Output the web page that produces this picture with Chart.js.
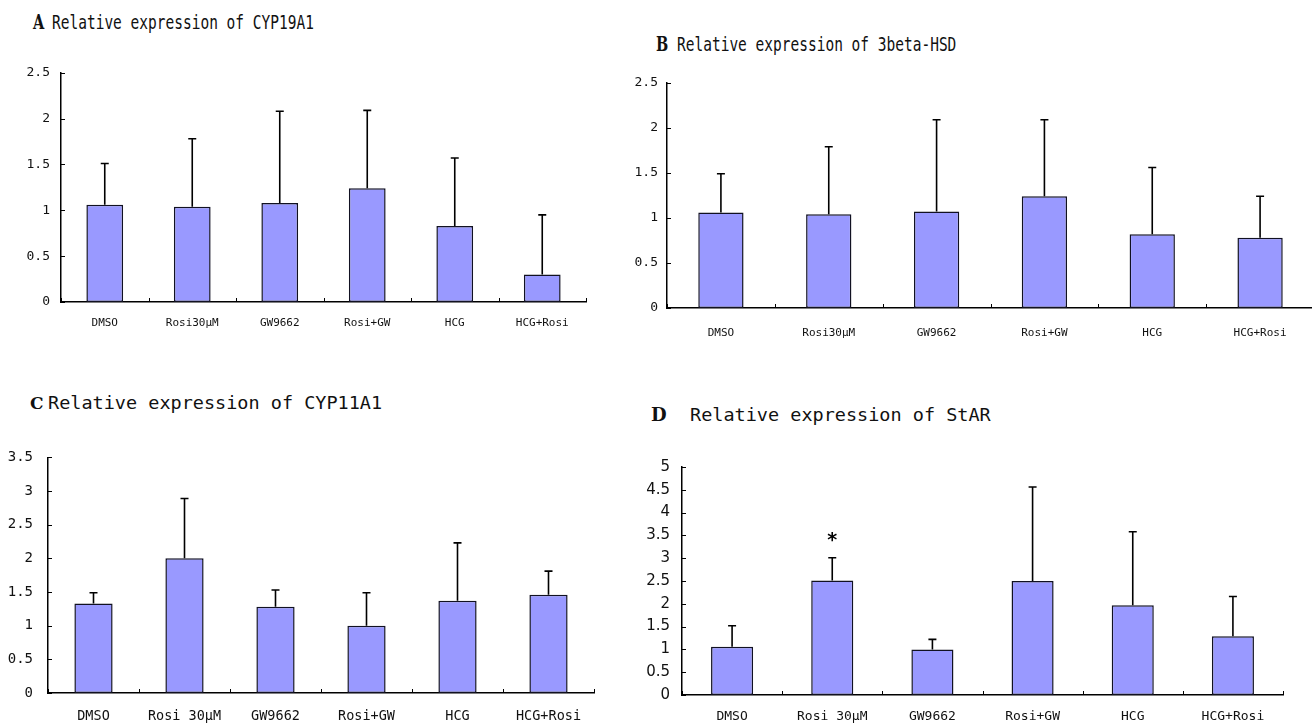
<!DOCTYPE html>
<html lang="en">
<head>
<meta charset="UTF-8">
<title>Relative expression</title>
<script src="https://cdn.jsdelivr.net/npm/chart.js"></script>
<style>
  body { margin:0; width:1312px; height:727px; background:#fff; overflow:hidden; position:relative; font-family:"DejaVu Sans Mono", monospace; color:#111; }
  canvas { position:absolute; }
  .ttl { position:absolute; white-space:pre; line-height:20px; transform-origin:left center; }
  .ab { font-size:14.5px; transform:scaleY(1.35); }
  .cd { font-size:18.5px; }
  .lt { font-family:"DejaVu Serif", serif; font-weight:bold; }
</style>
</head>
<body>
<!-- titoli dei pannelli -->
<div class="ttl ab lt" style="left:33px; top:12px;">A</div>
<div class="ttl ab" style="left:52px; top:12px;">Relative expression of CYP19A1</div>
<div class="ttl ab lt" style="left:656px; top:34px;">B</div>
<div class="ttl ab" style="left:677px; top:34px;">Relative expression of 3beta-HSD</div>
<div class="ttl lt" style="left:30px; top:393px; font-size:17px;">C</div>
<div class="ttl cd" style="left:48px; top:393px;">Relative expression of CYP11A1</div>
<div class="ttl lt" style="left:651px; top:405px; font-size:18px;">D</div>
<div class="ttl cd" style="left:690px; top:405px;">Relative expression of StAR</div>

<canvas id="cA"></canvas>
<canvas id="cB"></canvas>
<canvas id="cC"></canvas>
<canvas id="cD"></canvas>

<script>
// categorie
const groupsAB = ['DMSO', 'Rosi30\u03bcM', 'GW9662', 'Rosi+GW', 'HCG', 'HCG+Rosi'];
const groupsCD = ['DMSO', 'Rosi 30\u03bcM', 'GW9662', 'Rosi+GW', 'HCG', 'HCG+Rosi'];

// A - CYP19A1
const meanA = [1.06, 1.04, 1.08, 1.24, 0.83, 0.30];
const sdA   = [0.45, 0.74, 1.00, 0.85, 0.74, 0.65];
// B - 3beta-HSD
const meanB = [1.06, 1.04, 1.07, 1.24, 0.82, 0.78];
const sdB   = [0.43, 0.75, 1.02, 0.85, 0.74, 0.46];
// C - CYP11A1
const meanC = [1.33, 2.00, 1.28, 1.00, 1.37, 1.46];
const sdC   = [0.16, 0.89, 0.25, 0.49, 0.86, 0.35];
// D - StAR
const meanD = [1.06, 2.51, 1.00, 2.50, 1.97, 1.29];
const sdD   = [0.46, 0.50, 0.22, 2.06, 1.61, 0.87];
const sigD  = ['', '*', '', '', '', ''];

// assi y
const yMaxA = 2.5, yStepA = 0.5;
const yMaxB = 2.5, yStepB = 0.5;
const yMaxC = 3.5, yStepC = 0.5;
const yMaxD = 5,   yStepD = 0.5;

// barre di errore + tacche interne + asterisco
const errorBars = {
  id: 'errorBars',
  afterDatasetsDraw(chart, args, opts) {
    const ctx = chart.ctx, x = chart.scales.x, y = chart.scales.y, area = chart.chartArea;
    const meta = chart.getDatasetMeta(0);
    const vals = chart.data.datasets[0].data;
    ctx.save();
    ctx.strokeStyle = '#000';
    ctx.lineWidth = 1.6;
    meta.data.forEach((bar, i) => {
      const top = y.getPixelForValue(vals[i] + opts.sd[i]);
      ctx.beginPath();
      ctx.moveTo(bar.x, bar.y);
      ctx.lineTo(bar.x, top);
      ctx.moveTo(bar.x - 4, top);
      ctx.lineTo(bar.x + 4, top);
      ctx.stroke();
      if (opts.sig && opts.sig[i]) {
        ctx.fillStyle = '#000';
        ctx.font = 'bold 19px "DejaVu Sans"';
        ctx.textAlign = 'center';
        ctx.textBaseline = 'alphabetic';
        ctx.fillText(opts.sig[i], bar.x, top - 12);
      }
    });
    ctx.lineWidth = 1;
    ctx.beginPath();
    y.ticks.forEach(t => {
      const py = Math.round(y.getPixelForValue(t.value)) + 0.5;
      ctx.moveTo(area.left, py);
      ctx.lineTo(area.left + 4, py);
    });
    for (let i = 0; i <= chart.data.labels.length; i++) {
      const px = Math.round(x.getPixelForValue(i - 0.5)) + 0.5;
      ctx.moveTo(px, area.bottom);
      ctx.lineTo(px, area.bottom - 4);
    }
    ctx.stroke();
    ctx.restore();
  }
};

const YW = 46, PT = 16, PR = 12, XH = 45;

function makePanel(id, labels, mean, sd, yMax, yStep, sig, L) {
  const cv = document.getElementById(id);
  const w = (L.right - L.left) + YW + PR;
  const h = PT + (L.bottom - L.top) + XH;
  cv.style.left = (L.left - YW) + 'px';
  cv.style.top = (L.top - PT) + 'px';
  cv.width = w; cv.height = h;
  cv.style.width = w + 'px'; cv.style.height = h + 'px';

  return new Chart(cv.getContext('2d'), {
    type: 'bar',
    data: {
      labels: labels,
      datasets: [{
        data: mean,
        backgroundColor: '#9999ff',
        borderColor: '#111122',
        borderWidth: 1.5,
        borderSkipped: false,
        categoryPercentage: 1,
        barPercentage: 0.42
      }]
    },
    options: {
      responsive: false,
      animation: false,
      layout: { padding: { top: PT, right: PR, left: 0, bottom: 0 } },
      plugins: {
        legend: { display: false },
        tooltip: { enabled: false },
        errorBars: { sd: sd, sig: sig }
      },
      scales: {
        x: {
          grid: { display: false, drawTicks: false },
          border: { display: true, color: '#000', width: 1.5 },
          ticks: { color: '#111', font: { family: 'DejaVu Sans Mono', size: L.catSize },
                   padding: L.xPad, maxRotation: 0, autoSkip: false },
          afterFit: s => { s.height = XH; }
        },
        y: {
          min: 0, max: yMax,
          grid: { display: false, drawTicks: false },
          border: { display: true, color: '#000', width: 1.5 },
          ticks: { stepSize: yStep, color: '#111', padding: L.yGap,
                   font: { family: L.tickFamily, size: L.tickSize },
                   callback: v => String(+v.toFixed(1)) },
          afterFit: s => { s.width = YW; }
        }
      }
    },
    plugins: [errorBars]
  });
}

makePanel('cA', groupsAB, meanA, sdA, yMaxA, yStepA, null,
  { left: 61, top: 70, right: 586, bottom: 302, yGap: 11, xPad: 15, catSize: 11, tickSize: 13, tickFamily: 'DejaVu Sans Mono' });
makePanel('cB', groupsAB, meanB, sdB, yMaxB, yStepB, null,
  { left: 667, top: 82, right: 1314, bottom: 308, yGap: 9, xPad: 19, catSize: 11, tickSize: 13, tickFamily: 'DejaVu Sans Mono' });
makePanel('cC', groupsCD, meanC, sdC, yMaxC, yStepC, null,
  { left: 48, top: 450, right: 594, bottom: 693, yGap: 15, xPad: 15, catSize: 13.5, tickSize: 14, tickFamily: 'DejaVu Sans Mono' });
makePanel('cD', groupsCD, meanD, sdD, yMaxD, yStepD, sigD,
  { left: 682, top: 462, right: 1283, bottom: 695, yGap: 12, xPad: 14, catSize: 13, tickSize: 15, tickFamily: 'DejaVu Sans' });
</script>
</body>
</html>
